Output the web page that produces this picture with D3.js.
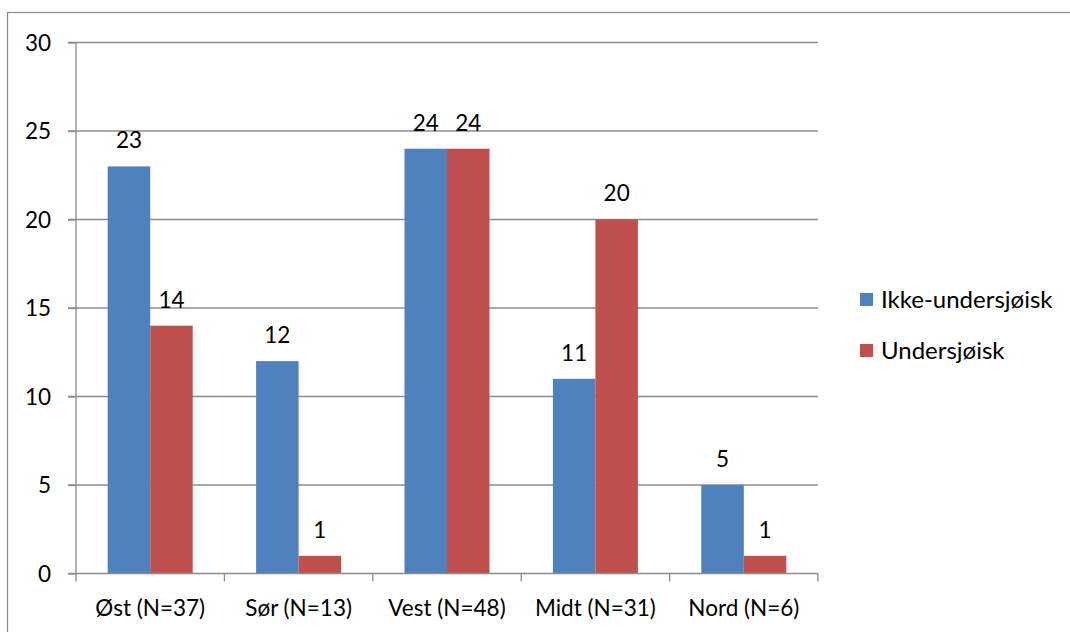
<!DOCTYPE html>
<html><head><meta charset="utf-8">
<script src="https://cdn.jsdelivr.net/npm/d3@7"></script>
<style>body{margin:0;background:#fff}</style>
</head><body>
<svg id="c" width="1070" height="632"></svg>
<script>
const categories = ["Øst (N=37)", "Sør (N=13)", "Vest (N=48)", "Midt (N=31)", "Nord (N=6)"];
const seriesNames = ["Ikke-undersjøisk", "Undersjøisk"];
const ikkeUndersjoisk = [23, 12, 24, 11, 5];
const undersjoisk = [14, 1, 24, 20, 1];
const yTicks = [0, 5, 10, 15, 20, 25, 30];
const colors = ["#4F81BD", "#C0504D"];

const svg = d3.select("#c");
const font = "Lato, 'Open Sans', sans-serif";
const fs = 22.5;
svg.append("rect").attr("x", 7.5).attr("y", 12.5).attr("width", 1100).attr("height", 700)
  .attr("fill", "none").attr("stroke", "#898989").attr("stroke-width", 1.2);

const L = 76, R = 818, T = 42.5, B = 573.5;
const x = d3.scaleBand().domain(categories).range([L, R]).paddingInner(0).paddingOuter(0);
const y = d3.scaleLinear().domain([0, 30]).range([B, T]);
const inner = d3.scaleBand().domain([0, 1]).range([0, x.bandwidth()]).paddingOuter(0.746).paddingInner(0);

// gridlines
svg.append("g").selectAll("line").data(yTicks.filter(d => d > 0)).join("line")
  .attr("x1", L - 8).attr("x2", R).attr("y1", d => y(d)).attr("y2", d => y(d))
  .attr("stroke", "#8c8c8c").attr("stroke-width", 1.3);

const series = [ikkeUndersjoisk, undersjoisk];
series.forEach((vals, si) => {
  svg.append("g").selectAll("rect").data(vals).join("rect")
    .attr("x", (d, i) => x(categories[i]) + inner(si))
    .attr("width", inner.bandwidth())
    .attr("y", d => y(d)).attr("height", d => B - y(d))
    .attr("fill", colors[si]);
  svg.append("g").selectAll("text").data(vals).join("text")
    .attr("x", (d, i) => x(categories[i]) + inner(si) + inner.bandwidth() / 2)
    .attr("y", d => y(d) - 26).attr("dy", "0.35em")
    .attr("text-anchor", "middle").attr("font-family", font).attr("font-size", fs)
    .attr("fill", "#000").text(d => d);
});

// axes
const yAxis = svg.append("g").attr("transform", `translate(${L},0)`)
  .call(d3.axisLeft(y).tickValues(yTicks).tickSize(8).tickPadding(17));
yAxis.select(".domain").attr("stroke", "#8c8c8c").attr("stroke-width", 1.3).attr("d", `M0,${T}V${B}`);
yAxis.selectAll(".tick line").attr("stroke", "#8c8c8c").attr("stroke-width", 1.3);
yAxis.selectAll("text").attr("font-family", font).attr("font-size", fs).attr("fill", "#000").attr("dy", "0.35em");

const xAxis = svg.append("g").attr("transform", `translate(0,${B})`)
  .call(d3.axisBottom(x).tickSize(0).tickPadding(0));
xAxis.select(".domain").attr("stroke", "#8c8c8c").attr("stroke-width", 1.3).attr("d", `M${L - 8},0H${R}`);
xAxis.selectAll("text").attr("font-family", font).attr("font-size", fs).attr("fill", "#000")
  .attr("y", 35).attr("dy", "0.35em");
// category boundary ticks
const bounds = categories.map(c => x(c)).concat([R]);
svg.append("g").selectAll("line").data(bounds).join("line")
  .attr("x1", d => d).attr("x2", d => d).attr("y1", B).attr("y2", B + 8)
  .attr("stroke", "#8c8c8c").attr("stroke-width", 1.3);

// legend
const lg = svg.append("g");
seriesNames.forEach((n, i) => {
  const yy = 300 + i * 51;
  lg.append("rect").attr("x", 860).attr("y", yy - 7).attr("width", 13).attr("height", 13).attr("fill", colors[i]);
  lg.append("text").attr("x", 881).attr("y", yy).attr("dy", "0.35em")
    .attr("font-family", font).attr("font-size", 24).attr("fill", "#000").text(n);
});
</script>
</body></html>
